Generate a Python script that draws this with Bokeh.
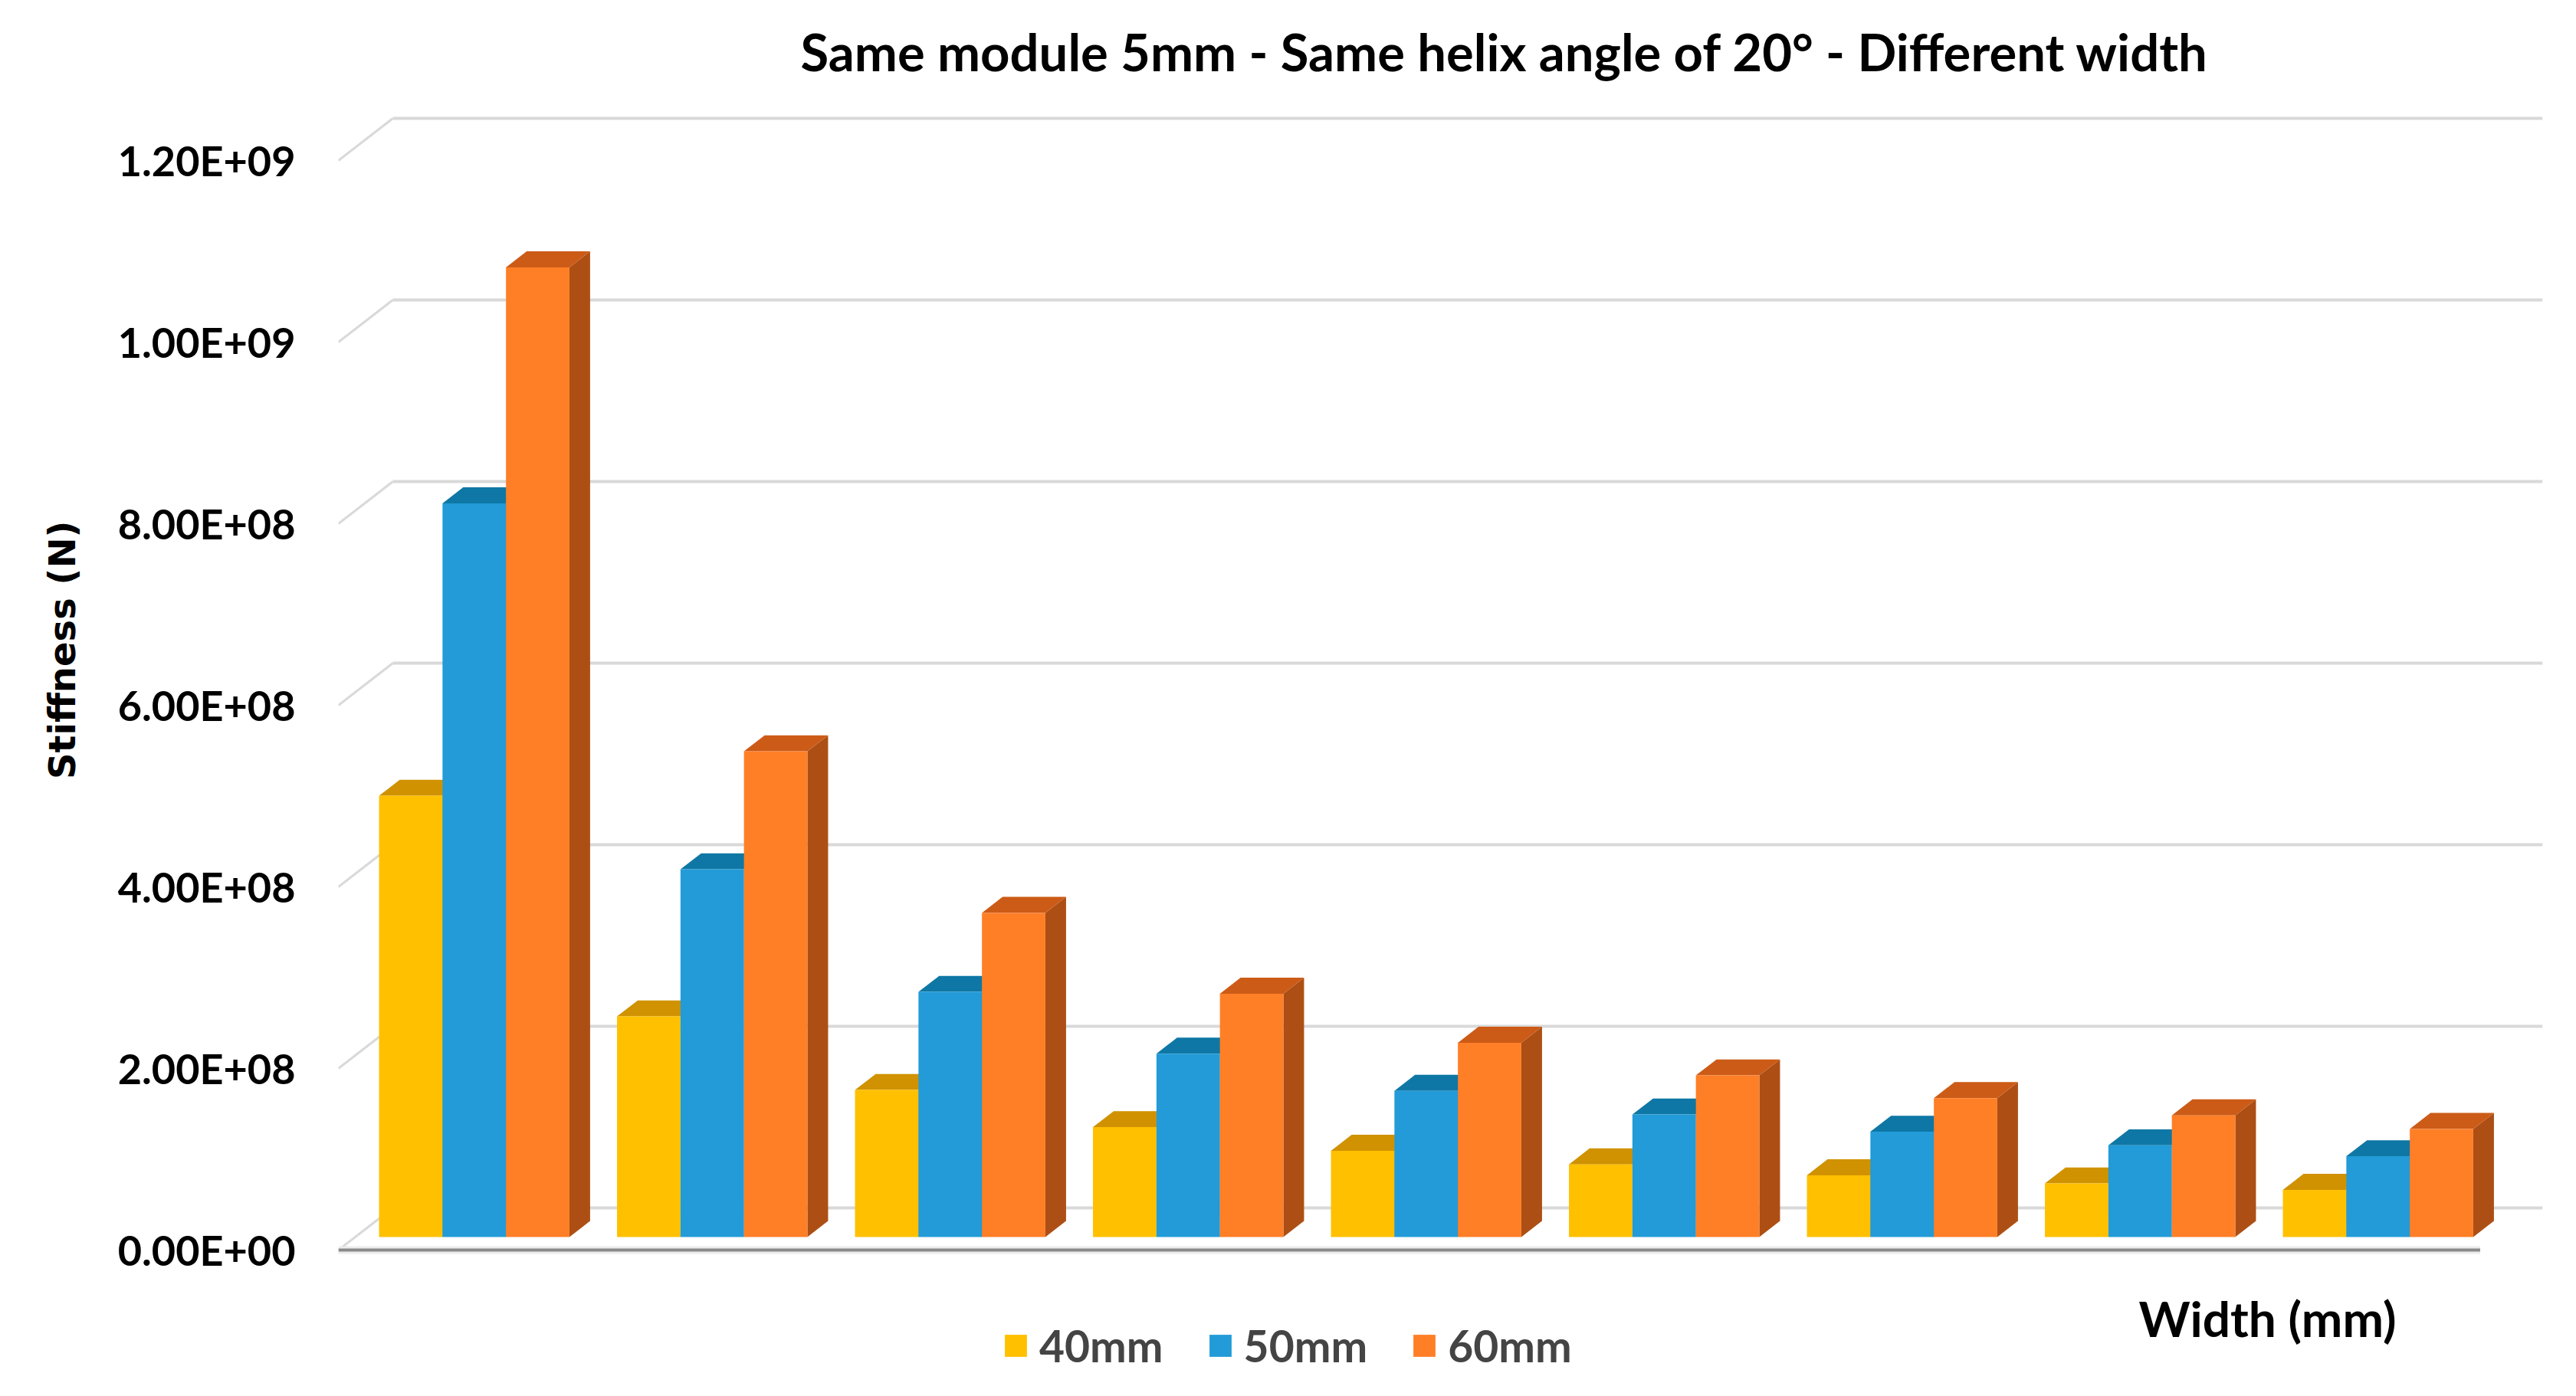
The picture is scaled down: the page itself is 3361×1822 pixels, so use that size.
from bokeh.plotting import figure
from bokeh.models import (Range1d, LinearAxis, FixedTicker, Legend, LegendItem,
                          ColumnDataSource, Title)
from bokeh.core.properties import value
from bokeh.embed import file_html
from bokeh.resources import INLINE

# ---------------- data ----------------
groups = ["1", "2", "3", "4", "5", "6", "7", "8", "9"]
series_names = ["40mm", "50mm", "60mm"]
s40 = [4.86e8, 2.43e8, 1.62e8, 1.21e8, 0.95e8, 0.80e8, 0.68e8, 0.59e8, 0.52e8]
s50 = [8.08e8, 4.05e8, 2.70e8, 2.02e8, 1.61e8, 1.35e8, 1.16e8, 1.01e8, 0.89e8]
s60 = [1.068e9, 5.35e8, 3.57e8, 2.68e8, 2.14e8, 1.78e8, 1.53e8, 1.34e8, 1.19e8]
y_ticks = [0, 200000000, 400000000, 600000000, 800000000, 1000000000, 1200000000]
y_tick_labels = ["0.00E+00", "2.00E+08", "4.00E+08", "6.00E+08",
                 "8.00E+08", "1.00E+09", "1.20E+09"]
title_text = "Same module 5mm - Same helix angle of 20\u00b0 - Different width"
x_title = "Width (mm)"
y_title = "Stiffness (N)"

front_colors = ["#FFC000", "#229BD8", "#FF7F27"]
top_colors = ["#D09200", "#0E77A5", "#CC5B17"]
side_colors = ["#A67800", "#0B6A94", "#AD4F14"]

# ---------------- geometry (page pixels) ----------------
W, H = 3345, 1806
PAGE = 8
L, R, T, B = 449, 3325, 128, 1812
PX_X = 310.5          # pixels per category slot
PX_Y = 1185.0 / 1e9   # pixels per unit of stiffness
BAR_BASE = 1622.0     # page y of bar bottoms
DX = 71.0 / PX_X      # full depth shift in x data units
DY = 55.0 / PX_Y      # full depth shift in y data units
D0, D1 = 0.31, 0.69   # bar depth (front/back) as fraction of total depth

x_start = -D0 * DX
x_end = x_start + (R - L) / PX_X
y_end = (BAR_BASE - T) / PX_Y
y_start = -(B - BAR_BASE) / PX_Y

p = figure(width=W, height=H, output_backend="svg", toolbar_location=None,
           x_range=Range1d(x_start, x_end), y_range=Range1d(y_start, y_end),
           x_axis_location=None, y_axis_location=None)
p.min_border_left = L - PAGE
p.min_border_right = PAGE + W - R
p.min_border_top = T - PAGE
p.min_border_bottom = PAGE + H - B
p.outline_line_color = None
p.xgrid.visible = False
p.ygrid.visible = False
p.background_fill_color = "white"

p.title.text = title_text
p.title.text_font = "Lato"
p.title.text_font_style = "bold"
p.title.text_font_size = "67px"
p.title.align = "left"
p.title.offset = 1052 - L
p.title.standoff = 27
p.title.text_color = "#000000"

# front-plane range for the value axis labels
p.extra_y_ranges = {"front": Range1d(y_start + D0 * DY, y_end + D0 * DY)}
yax = LinearAxis(y_range_name="front", ticker=FixedTicker(ticks=y_ticks))
yax.major_label_overrides = {t: lab for t, lab in zip(y_ticks, y_tick_labels)}
yax.axis_line_color = None
yax.major_tick_line_color = None
yax.minor_tick_line_color = None
yax.major_label_standoff = 50
yax.major_label_text_font = "Lato"
yax.major_label_text_font_style = "bold"
yax.major_label_text_font_size = "54px"
yax.major_label_text_color = "#000000"
p.add_layout(yax, "left")

ytitle = Title(text=y_title, align="right", offset=687 - T,
               text_font="DejaVu Sans", text_font_style="bold",
               text_font_size="48px", text_color="#000000", standoff=84)
p.add_layout(ytitle, "left")

# back-wall gridlines and side-wall diagonals
n = len(groups)
gx0, gx1, gy = [], [], []
dx0, dy0, dx1, dy1 = [], [], [], []
for t in y_ticks:
    gx0.append((1 - D0) * DX)
    gx1.append(x_end)
    gy.append(t + (1 - D0) * DY)
    dx0.append(-D0 * DX)
    dy0.append(t - D0 * DY)
    dx1.append((1 - D0) * DX)
    dy1.append(t + (1 - D0) * DY)
p.segment(x0=gx0, y0=gy, x1=gx1, y1=gy, line_color="#D9D9D9", line_width=4)
p.segment(x0=dx0, y0=dy0, x1=dx1, y1=dy1, line_color="#D9D9D9", line_width=3)

# floor front edge
p.segment(x0=[-D0 * DX], y0=[-D0 * DY], x1=[n - D0 * DX], y1=[-D0 * DY],
          line_color="#ECECEC", line_width=10)
p.segment(x0=[-D0 * DX], y0=[-D0 * DY], x1=[n - D0 * DX], y1=[-D0 * DY],
          line_color="#8A8A8A", line_width=4)

# 3D bars
bw = 0.8 / 3
ddx = (D1 - D0) * DX
ddy = (D1 - D0) * DY
front_renderers = []
for j, vals in enumerate([s40, s50, s60]):
    xc = [i + 0.1 + (j + 0.5) * bw for i in range(n)]
    side_xs, side_ys, top_xs, top_ys = [], [], [], []
    for x, v in zip(xc, vals):
        xl, xr = x - bw / 2, x + bw / 2
        side_xs.append([xr, xr + ddx, xr + ddx, xr])
        side_ys.append([0, ddy, v + ddy, v])
        top_xs.append([xl, xr, xr + ddx, xl + ddx])
        top_ys.append([v, v, v + ddy, v + ddy])
    p.patches(xs=side_xs, ys=side_ys, fill_color=side_colors[j], line_color=None)
    p.patches(xs=top_xs, ys=top_ys, fill_color=top_colors[j], line_color=None)
    src = ColumnDataSource(dict(x=xc, top=vals))
    r = p.vbar(x="x", top="top", bottom=0, width=bw, source=src,
               fill_color=front_colors[j], line_color=None)
    front_renderers.append(r)

# x axis title
p.text(x=[x_start + (2966 - L) / PX_X], y=[-(1728 - BAR_BASE) / PX_Y], text=[x_title],
       text_font=value("Lato"), text_font_style="bold", text_font_size="64px",
       text_align="center", text_baseline="middle", text_color="#000000")

legend = Legend(items=[LegendItem(label=nm, renderers=[r])
                       for nm, r in zip(series_names, front_renderers)],
                orientation="horizontal", location=(1315 - L, 14))
legend.border_line_color = None
legend.background_fill_alpha = 0
legend.padding = 0
legend.margin = 0
legend.glyph_width = 36
legend.glyph_height = 36
legend.label_standoff = 13
legend.spacing = 56
legend.label_text_font = "Lato"
legend.label_text_font_style = "bold"
legend.label_text_font_size = "57px"
legend.label_height = 36
p.add_layout(legend, "center")

open("out.html", "w").write(file_html(p, INLINE))
